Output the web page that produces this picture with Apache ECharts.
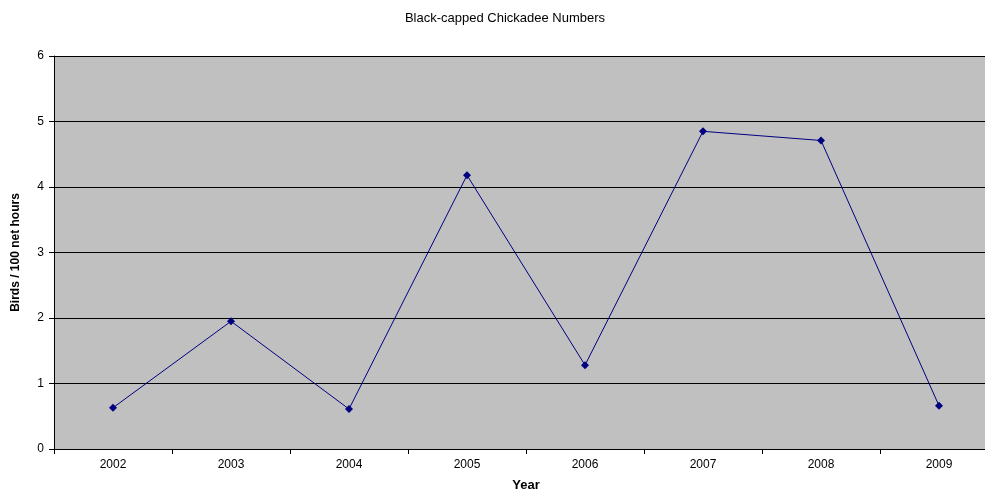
<!DOCTYPE html>
<html>
<head>
<meta charset="utf-8">
<script src="https://cdn.jsdelivr.net/npm/echarts@6/dist/echarts.min.js"></script>
<style>
  html, body { margin: 0; padding: 0; background: #fff; }
  #chart { width: 985px; height: 490px; }
</style>
</head>
<body>
<div id="chart"></div>
<script>
const years = ['2002', '2003', '2004', '2005', '2006', '2007', '2008', '2009'];
const birds = [0.63, 1.95, 0.61, 4.18, 1.28, 4.85, 4.71, 0.66];

const chart = echarts.init(document.getElementById('chart'));

chart.setOption({
  backgroundColor: '#ffffff',
  animation: false,
  title: {
    text: 'Black-capped Chickadee Numbers',
    left: 500,
    top: 7,
    textAlign: 'center',
    textStyle: {
      fontFamily: 'Liberation Sans',
      fontSize: 13,
      fontWeight: 'normal',
      color: '#000'
    }
  },
  grid: {
    left: 54,
    top: 56,
    width: 944,
    height: 393,
    outerBoundsMode: 'none',
    containLabel: false,
    show: true,
    backgroundColor: '#c0c0c0',
    borderWidth: 0
  },
  xAxis: {
    type: 'category',
    data: years,
    name: 'Year',
    nameLocation: 'middle',
    nameGap: 30,
    nameTextStyle: {
      fontFamily: 'Liberation Sans',
      fontSize: 13,
      fontWeight: 'bold',
      color: '#000'
    },
    axisLine: { lineStyle: { color: '#000', width: 1 } },
    axisTick: { show: true, length: 5, lineStyle: { color: '#000' } },
    axisLabel: {
      margin: 10,
      fontFamily: 'Liberation Sans',
      fontSize: 12,
      color: '#000'
    }
  },
  yAxis: {
    type: 'value',
    min: 0,
    max: 6,
    interval: 1,
    name: 'Birds / 100 net hours',
    nameLocation: 'middle',
    nameGap: 32,
    nameTextStyle: {
      fontFamily: 'Liberation Sans',
      fontSize: 12,
      fontWeight: 'bold',
      color: '#000'
    },
    axisLine: { show: true, lineStyle: { color: '#000', width: 1 } },
    axisTick: { show: true, length: 5, lineStyle: { color: '#000' } },
    axisLabel: {
      margin: 10,
      fontFamily: 'Liberation Sans',
      fontSize: 12,
      color: '#000'
    },
    splitLine: { show: true, lineStyle: { color: '#000', width: 1 } }
  },
  series: [
    {
      type: 'line',
      data: birds,
      symbol: 'diamond',
      symbolSize: 8,
      lineStyle: { color: '#000080', width: 1 },
      itemStyle: { color: '#000080' }
    }
  ]
});
</script>
</body>
</html>
